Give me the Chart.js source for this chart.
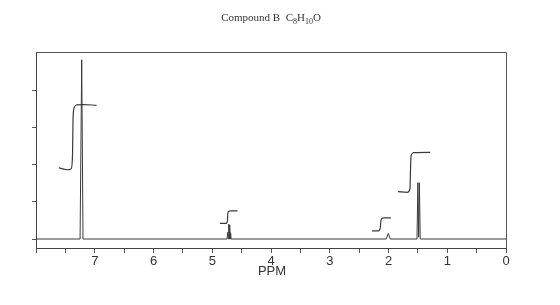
<!DOCTYPE html>
<html>
<head>
<meta charset="utf-8">
<script src="https://cdn.jsdelivr.net/npm/chart.js@4.4.1/dist/chart.umd.min.js"></script>
<style>
  body { margin: 0; background: #fff; }
  #wrap { width: 560px; height: 305px; }
</style>
</head>
<body>
<div id="wrap"><canvas id="nmr" width="560" height="305"></canvas></div>
<script>
// spectrum trace (ppm, intensity)
const specPpm = [8.0, 7.25, 7.222, 7.20, 4.75, 4.735, 4.728, 4.718, 4.71, 4.703, 4.696, 4.688, 4.68, 2.04, 2.003, 1.97, 1.515, 1.50, 1.487, 1.474, 1.46, 0.0];
const specInt = [0,   0,    4.84,  0,    0,    0.18,  0,     0.40,  0,    0.38,  0,     0.17,  0,    0,    0.15,  0,    0,     1.52, 0.05,  1.52,  0,    0];

// integral curves
const intAromPpm = [7.61, 7.47, 7.40, 7.378, 7.37, 7.35, 7.31, 7.20, 6.97];
const intAromVal = [1.92, 1.87, 1.90, 2.30,  3.20, 3.55, 3.62, 3.63, 3.61];
const intCHPpm = [4.87, 4.76, 4.742, 4.735, 4.72, 4.69, 4.57];
const intCHVal = [0.42, 0.42, 0.50,  0.68,  0.75, 0.76, 0.76];
const intOHPpm = [2.28, 2.17, 2.14, 2.13, 2.11, 2.07, 1.96];
const intOHVal = [0.22, 0.22, 0.30, 0.48, 0.56, 0.57, 0.57];
const intMePpm = [1.84, 1.68, 1.635, 1.625, 1.615, 1.58, 1.29];
const intMeVal = [1.28, 1.26, 1.35,  1.90,  2.25,  2.33, 2.34];

const xTickLabels = ['0', '1', '2', '3', '4', '5', '6', '7'];
const yTicks = [0, 1, 2, 3, 4];

function pts(xs, ys) {
    return xs.map((x, i) => ({ x: x, y: ys[i] }));
}

const ink = '#3a3a3a';

const frame = {
    id: 'frame',
    afterDraw(chart) {
        const ctx = chart.ctx;
        const a = chart.chartArea;
        ctx.save();
        ctx.strokeStyle = '#555';
        ctx.lineWidth = 1;
        ctx.beginPath();
        ctx.moveTo(Math.round(a.left) + 0.5, Math.round(a.top) + 0.5);
        ctx.lineTo(Math.round(a.right) + 0.5, Math.round(a.top) + 0.5);
        ctx.lineTo(Math.round(a.right) + 0.5, Math.round(a.bottom) + 0.5);
        ctx.stroke();

        // title with subscripts
        const parts = [['Compound B  C', 11, 0], ['8', 8, 3], ['H', 11, 0], ['10', 8, 3], ['O', 11, 0]];
        let w = 0;
        parts.forEach(p => { ctx.font = p[1] + 'px "Liberation Serif"'; w += ctx.measureText(p[0]).width; });
        let x = 271 - w / 2;
        ctx.fillStyle = '#333';
        ctx.textBaseline = 'alphabetic';
        parts.forEach(p => {
            ctx.font = p[1] + 'px "Liberation Serif"';
            ctx.fillText(p[0], x, 21 + p[2]);
            x += ctx.measureText(p[0]).width;
        });

        // axis name
        ctx.font = '13px "Liberation Sans"';
        ctx.textAlign = 'center';
        ctx.textBaseline = 'middle';
        ctx.fillText('PPM', 272, 271);
        ctx.restore();
    }
};

const lineDs = (label, data, width) => ({
    label: label,
    data: data,
    showLine: true,
    borderColor: ink,
    borderWidth: width,
    pointRadius: 0,
    fill: false,
    tension: 0
});

const intDs = (label, data) => Object.assign(lineDs(label, data, 1.2), { cubicInterpolationMode: 'monotone' });

new Chart(document.getElementById('nmr'), {
    type: 'scatter',
    data: {
        datasets: [
            lineDs('spectrum', pts(specPpm, specInt), 1),
            intDs('aromatic', pts(intAromPpm, intAromVal)),
            intDs('CH', pts(intCHPpm, intCHVal)),
            intDs('OH', pts(intOHPpm, intOHVal)),
            intDs('CH3', pts(intMePpm, intMeVal))
        ]
    },
    options: {
        responsive: false,
        animation: false,
        layout: { padding: { top: 52, right: 54, left: 0, bottom: 0 } },
        plugins: { legend: { display: false }, tooltip: { enabled: false }, title: { display: false } },
        scales: {
            x: {
                type: 'linear',
                reverse: true,
                min: 0,
                max: 8,
                afterFit: s => { s.height = 57; },
                ticks: {
                    stepSize: 0.5,
                    autoSkip: false,
                    maxRotation: 0,
                    padding: 1,
                    color: '#333',
                    font: { family: 'Liberation Sans', size: 13 },
                    callback: v => (Number.isInteger(v) && v < 8) ? xTickLabels[v] : ''
                },
                grid: { drawOnChartArea: false, drawTicks: true, tickLength: 5, color: '#555' },
                border: { display: true, color: '#444', width: 1 }
            },
            y: {
                type: 'linear',
                min: -0.243,
                max: 5.05,
                afterFit: s => { s.width = 36; },
                afterBuildTicks: s => { s.ticks = yTicks.map(v => ({ value: v })); },
                ticks: { display: false },
                grid: { drawOnChartArea: false, drawTicks: true, tickLength: 4, color: '#555' },
                border: { display: true, color: '#444', width: 1 }
            }
        }
    },
    plugins: [frame]
});
</script>
</body>
</html>
